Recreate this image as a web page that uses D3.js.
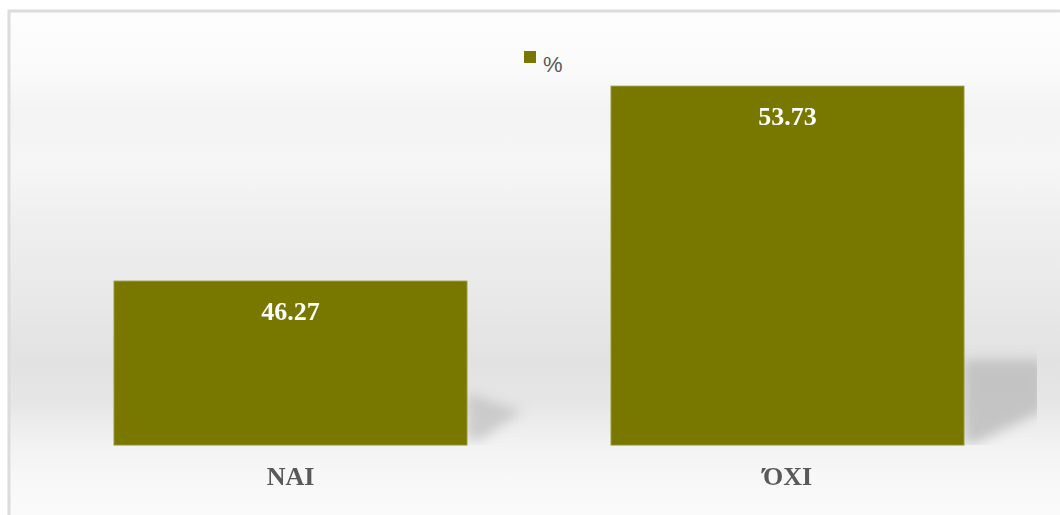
<!DOCTYPE html>
<html>
<head>
<meta charset="utf-8">
<script src="https://cdn.jsdelivr.net/npm/d3@7"></script>
<style>
  html, body { margin: 0; padding: 0; background: #ffffff; }
  svg { display: block; }
</style>
</head>
<body>
<svg id="chart" width="1060" height="515"></svg>
<script>
// Referendum result, percent of votes
const categories = ["ΝΑΙ", "ΌΧΙ"];
const values = [46.27, 53.73];
const seriesName = "%";

const W = 1060, H = 515;
const plot = { left: 42, right: 1036, top: 53, bottom: 445 };
const barColor = "#787800";

const svg = d3.select("#chart");
const defs = svg.append("defs");

// Background wall shading
const bg = defs.append("linearGradient").attr("id", "wall")
  .attr("x1", 0).attr("y1", 0).attr("x2", 0).attr("y2", 1);
[[0, "#fdfdfd"], [0.12, "#fafafa"], [0.2, "#f3f3f3"], [0.3, "#f6f6f6"],
 [0.42, "#eeeeee"], [0.55, "#e9e9e9"], [0.68, "#e2e2e2"], [0.76, "#e6e6e6"],
 [0.84, "#f2f2f2"], [0.9, "#f7f7f7"], [1, "#fbfbfb"]]
  .forEach(([o, c]) => bg.append("stop").attr("offset", o).attr("stop-color", c));

defs.append("filter").attr("id", "soft")
  .attr("x", "-50%").attr("y", "-50%").attr("width", "200%").attr("height", "200%")
  .append("feGaussianBlur").attr("stdDeviation", 6);

defs.append("clipPath").attr("id", "wallClip")
  .append("rect").attr("x", plot.left).attr("y", plot.top)
  .attr("width", plot.right - plot.left + 1).attr("height", plot.bottom - plot.top);

svg.append("rect").attr("x", 9).attr("y", 11).attr("width", W).attr("height", H)
  .attr("fill", "url(#wall)").attr("stroke", "#dcdcdc").attr("stroke-width", 3);

const x = d3.scaleBand().domain(categories)
  .range([plot.left, plot.right]).paddingInner(0.29).paddingOuter(0.145);
const y = d3.scaleLinear().domain([40, 55]).range([plot.bottom, plot.top]);

// Soft shadows cast on the back wall, to the right of each bar
const shadows = svg.append("g").attr("clip-path", "url(#wallClip)")
  .append("g").attr("filter", "url(#soft)");
categories.forEach((c, i) => {
  const xr = x(c) + x.bandwidth();
  const yt = y(values[i]);
  const tall = plot.bottom - yt > 200;
  const depth = tall ? 80 : 55;
  const top = tall ? plot.bottom - 85 : plot.bottom - 52;
  const path = tall
    ? `M${xr},${top} L${xr + depth},${top} L${xr + depth},${plot.bottom - 35} L${xr + 12},${plot.bottom - 2} L${xr},${plot.bottom - 2}Z`
    : `M${xr},${top} L${xr + 25},${top + 8} L${xr + depth},${top + 18} L${xr + 15},${plot.bottom - 6} L${xr},${plot.bottom - 4}Z`;
  shadows.append("path").attr("d", path)
    .attr("fill", "#bdbdbd").attr("opacity", tall ? 0.85 : 0.7);
});

// Bars
svg.append("g").selectAll("rect").data(values).join("rect")
  .attr("x", (d, i) => x(categories[i]))
  .attr("y", d => y(d))
  .attr("width", x.bandwidth())
  .attr("height", d => plot.bottom - y(d))
  .attr("fill", barColor)
  .attr("stroke", "#8f8f2a").attr("stroke-width", 1);

// Value labels
svg.append("g").selectAll("text").data(values).join("text")
  .attr("x", (d, i) => x(categories[i]) + x.bandwidth() / 2)
  .attr("y", d => y(d) + 39)
  .attr("text-anchor", "middle")
  .attr("font-family", "'Liberation Serif', 'DejaVu Serif', serif")
  .attr("font-weight", "bold").attr("font-size", 26)
  .attr("fill", "#ffffff")
  .text(d => d.toFixed(2));

// Category axis labels
const xAxis = d3.axisBottom(x).tickSize(0).tickPadding(22);
const gx = svg.append("g").attr("transform", `translate(0,${plot.bottom})`).call(xAxis);
gx.select(".domain").remove();
gx.selectAll("text")
  .attr("font-family", "'Liberation Serif', 'DejaVu Serif', serif")
  .attr("font-weight", "bold").attr("font-size", 26)
  .attr("fill", "#595959");

// Legend
const lg = svg.append("g").attr("transform", "translate(524,51)");
lg.append("rect").attr("width", 12).attr("height", 12).attr("fill", barColor);
lg.append("text").attr("x", 19).attr("y", 21)
  .attr("font-family", "'Liberation Sans', Arial, sans-serif")
  .attr("font-size", 22).attr("fill", "#595959").text(seriesName);
</script>
</body>
</html>
